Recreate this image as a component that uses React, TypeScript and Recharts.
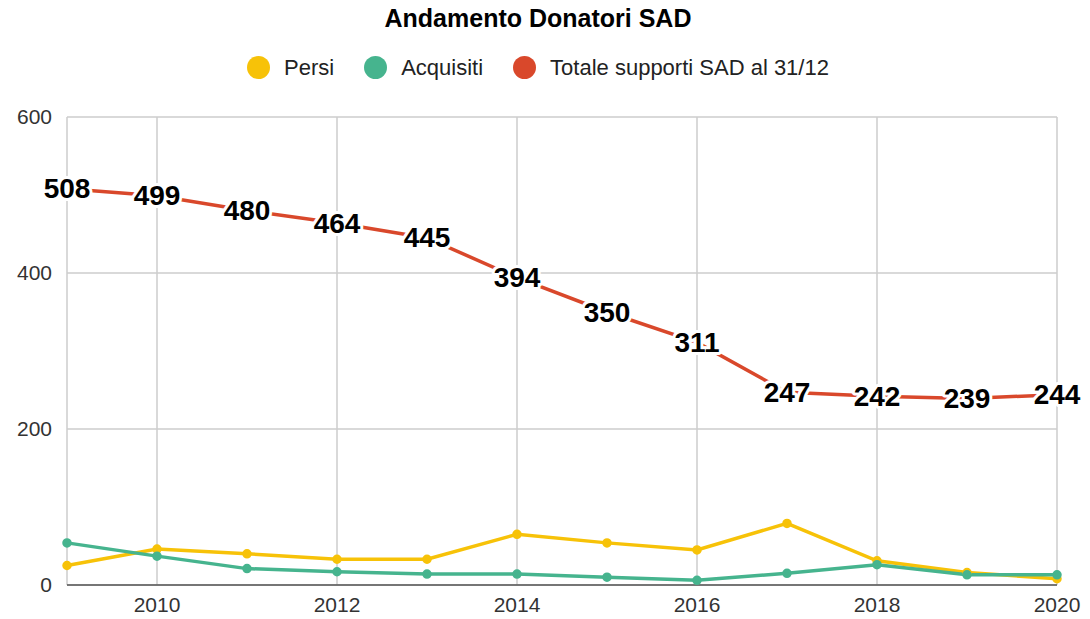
import React from "react";
import {
  LineChart,
  Line,
  XAxis,
  YAxis,
  CartesianGrid,
  LabelList,
} from "recharts";

const years = [2009, 2010, 2011, 2012, 2013, 2014, 2015, 2016, 2017, 2018, 2019, 2020];
const persi = [25, 46, 40, 33, 33, 65, 54, 45, 79, 31, 16, 8];
const acquisiti = [54, 37, 21, 17, 14, 14, 10, 6, 15, 26, 13, 13];
const totale = [508, 499, 480, 464, 445, 394, 350, 311, 247, 242, 239, 244];

const xTicks = [2010, 2012, 2014, 2016, 2018, 2020];
const yTicks = [0, 200, 400, 600];

const seriesInfo = [
  { key: "persi", name: "Persi", color: "#f7c208" },
  { key: "acquisiti", name: "Acquisiti", color: "#46b48e" },
  { key: "totale", name: "Totale supporti SAD al 31/12", color: "#d9482b" },
];

const data = years.map((year, i) => ({
  year,
  persi: persi[i],
  acquisiti: acquisiti[i],
  totale: totale[i],
}));

const FONT = "'Liberation Sans', Arial, sans-serif";

function ValueLabel(props: any) {
  const { x, y, value } = props;
  return (
    <text
      x={x}
      y={y}
      textAnchor="middle"
      dominantBaseline="central"
      fontFamily={FONT}
      fontSize={28}
      fontWeight="bold"
      fill="#000"
      stroke="#fff"
      strokeWidth={6}
      strokeLinejoin="round"
      style={{ paintOrder: "stroke" }}
    >
      {value}
    </text>
  );
}

function LegendRow() {
  return (
    <div
      style={{
        position: "absolute",
        left: 0,
        top: 56,
        width: 1076,
        display: "flex",
        justifyContent: "center",
        alignItems: "center",
        gap: 30,
        fontFamily: FONT,
        fontSize: 22,
        color: "#222",
      }}
    >
      {seriesInfo.map((s) => (
        <div key={s.key} style={{ display: "flex", alignItems: "center", gap: 14 }}>
          <span
            style={{
              width: 23,
              height: 23,
              borderRadius: "50%",
              background: s.color,
              display: "inline-block",
            }}
          />
          <span style={{ lineHeight: "23px" }}>{s.name}</span>
        </div>
      ))}
    </div>
  );
}

export default function App() {
  return (
    <div
      style={{
        position: "absolute",
        left: 0,
        top: 0,
        width: 1090,
        height: 619,
        background: "#fff",
        fontFamily: FONT,
      }}
    >
      <div
        style={{
          position: "absolute",
          left: 0,
          top: 6,
          width: 1076,
          textAlign: "center",
          fontSize: 25,
          lineHeight: "25px",
          fontWeight: "bold",
          color: "#000",
        }}
      >
        Andamento Donatori SAD
      </div>
      <LegendRow />
      <LineChart
        width={1090}
        height={619}
        data={data}
        margin={{ top: 117, right: 33, bottom: 0, left: 0 }}
      >
        <CartesianGrid stroke="#cccccc" strokeWidth={1.5} />
        <XAxis
          dataKey="year"
          type="number"
          domain={[2009, 2020]}
          ticks={xTicks}
          height={34}
          tickSize={0}
          tickMargin={12}
          axisLine={{ stroke: "#555", strokeWidth: 1.5 }}
          tick={{ fontSize: 21, fill: "#333", fontFamily: FONT }}
        />
        <YAxis
          domain={[0, 600]}
          ticks={yTicks}
          width={67}
          tickSize={0}
          tickMargin={15}
          axisLine={false}
          tick={{ fontSize: 21, fill: "#333", fontFamily: FONT }}
        />
        <Line
          dataKey="persi"
          name="Persi"
          stroke={seriesInfo[0].color}
          strokeWidth={3.5}
          dot={{ r: 3, fill: seriesInfo[0].color, stroke: seriesInfo[0].color }}
          isAnimationActive={false}
        />
        <Line
          dataKey="acquisiti"
          name="Acquisiti"
          stroke={seriesInfo[1].color}
          strokeWidth={3.5}
          dot={{ r: 3, fill: seriesInfo[1].color, stroke: seriesInfo[1].color }}
          isAnimationActive={false}
        />
        <Line
          dataKey="totale"
          name="Totale supporti SAD al 31/12"
          stroke={seriesInfo[2].color}
          strokeWidth={3.5}
          dot={false}
          isAnimationActive={false}
        >
          <LabelList dataKey="totale" content={<ValueLabel />} />
        </Line>
      </LineChart>
    </div>
  );
}
